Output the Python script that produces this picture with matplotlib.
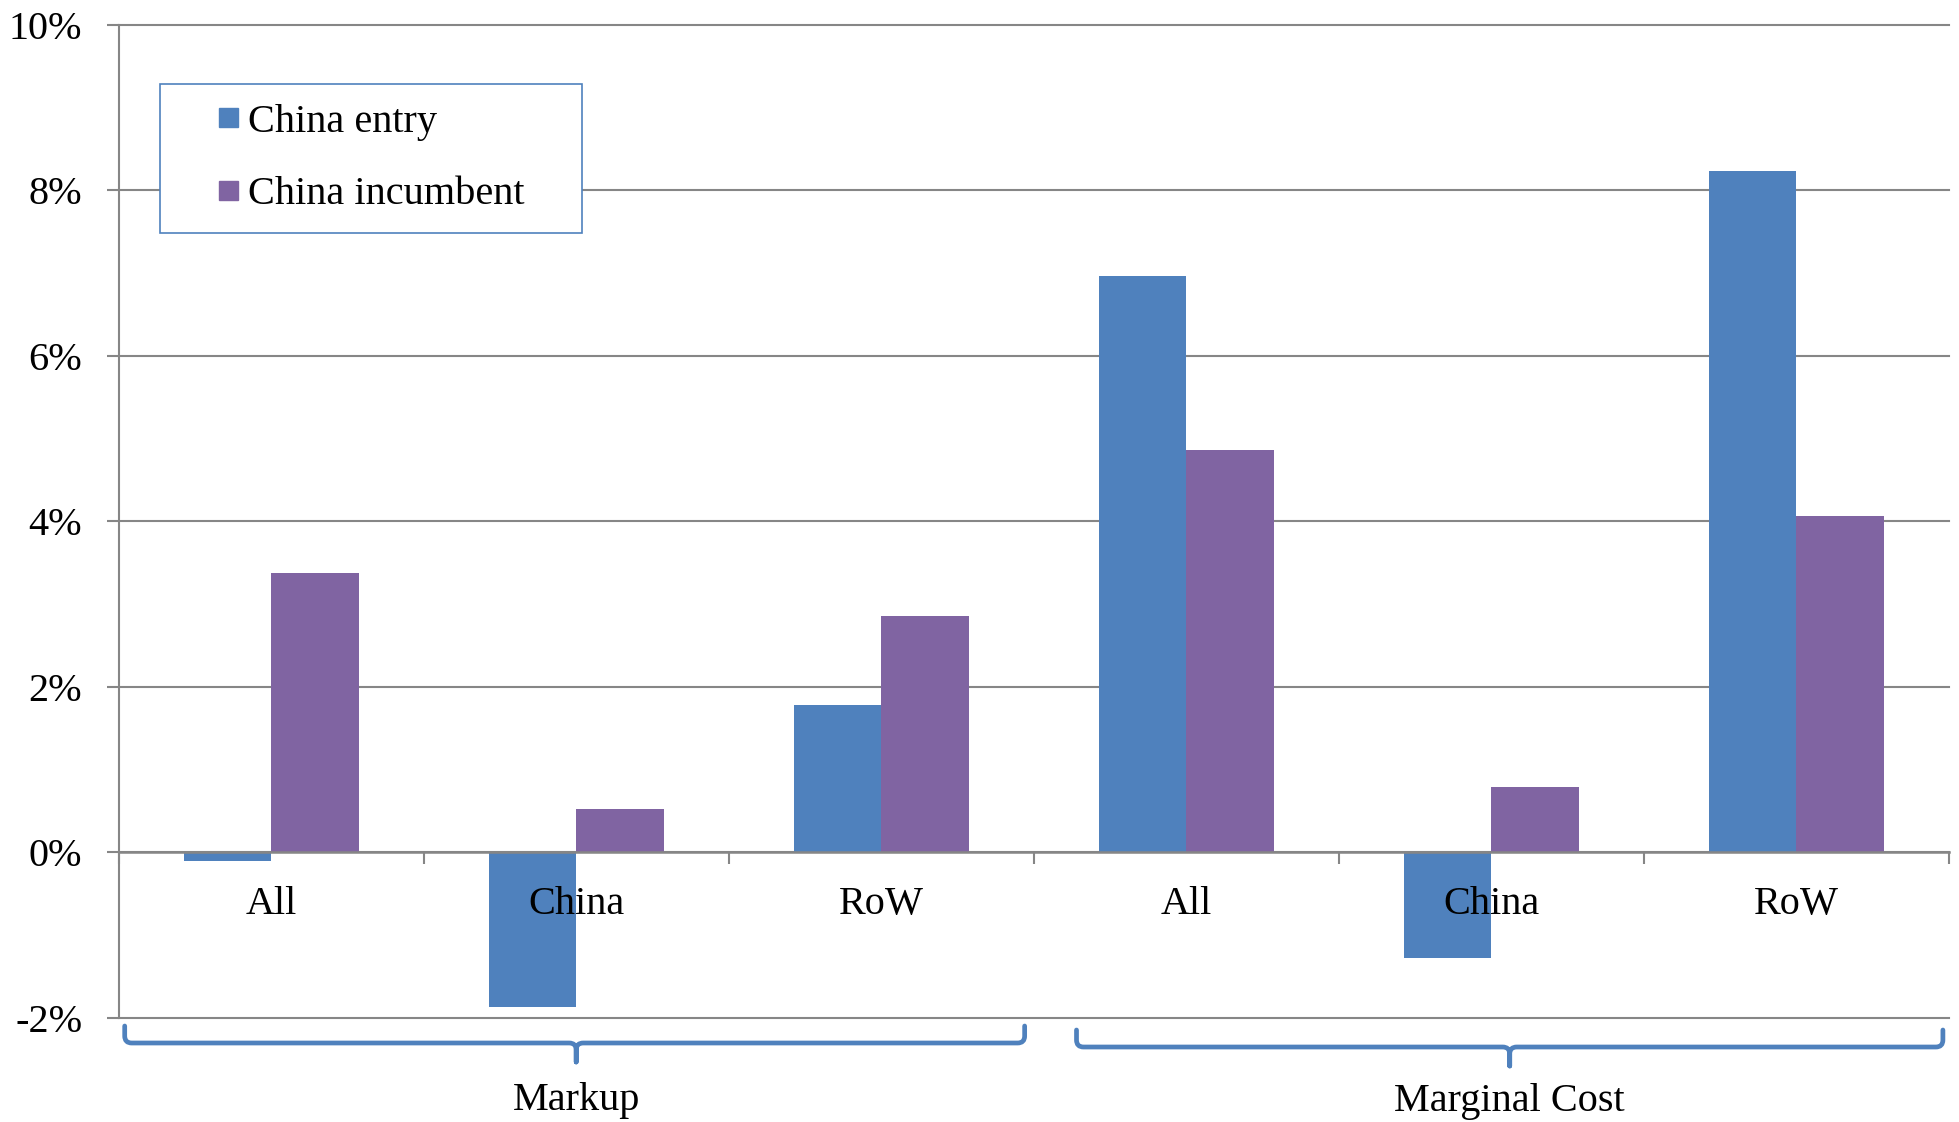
import numpy as np
import matplotlib
matplotlib.use("Agg")
import matplotlib.pyplot as plt
import matplotlib.transforms as mtransforms
from matplotlib.path import Path
from matplotlib.patches import PathPatch, Patch, Rectangle
from matplotlib.legend_handler import HandlerPatch

# price decomposition: change by firm origin
categories = ["All", "China", "RoW", "All", "China", "RoW"]
groups = ["Markup", "Marginal Cost"]
china_entry = [-0.10, -1.87, 1.78, 6.96, -1.27, 8.23]
china_incumbent = [3.38, 0.53, 2.85, 4.86, 0.79, 4.06]
yticks = [-2, 0, 2, 4, 6, 8, 10]

BLUE = "#4F81BD"
PURPLE = "#8064A2"
GRID = "#868686"
FS = 29

plt.rcParams["font.family"] = ["Liberation Serif", "DejaVu Serif"]

W, H = 1959, 1122
fig = plt.figure(figsize=(W / 100, H / 100), dpi=100)
ax = fig.add_axes([118.6 / W, 1 - 1018 / H, (1949 - 118.6) / W, (1018 - 24.5) / H])
ax.set_axisbelow(False)

# horizontal gridlines sit under the bars, tick labels stay on top
for v in yticks:
    ax.axhline(v, color=GRID, lw=1.5, zorder=0.5, clip_on=False)

x = np.arange(len(categories))
w = 0.287
ax.bar(x - w / 2, china_entry, w, color=BLUE, label="China entry", zorder=2)
ax.bar(x + w / 2, china_incumbent, w, color=PURPLE, label="China incumbent", zorder=2)

ax.set_xlim(-0.5, len(categories) - 0.5)
ax.set_ylim(yticks[0], yticks[-1])
ax.set_yticks(yticks)
ax.set_yticklabels([f"{v}%" for v in yticks])
ax.tick_params(axis="y", length=8.6, width=1.5, color=GRID, pad=17.5, labelsize=FS)

ax.set_xticks(x)
ax.set_xticklabels(categories)
ax.set_xticks(np.arange(len(categories) + 1) - 0.5, minor=True)
ax.tick_params(axis="x", which="major", length=0, pad=24, labelsize=FS)
ax.tick_params(axis="x", which="minor", length=8.6, width=1.5, color=GRID)

for side in ("top", "right"):
    ax.spines[side].set_visible(False)
ax.spines["left"].set_color(GRID)
ax.spines["left"].set_linewidth(1.5)
ax.spines["bottom"].set_position(("data", 0))
ax.spines["bottom"].set_color(GRID)
ax.spines["bottom"].set_linewidth(1.8)
ax.spines["bottom"].set_zorder(3)


def square_handle(legend, orig_handle, xdescent, ydescent, width, height, fontsize):
    s = 0.47 * fontsize
    return Rectangle((width - s - xdescent, -ydescent + (height - s) / 2), s, s)


handles = [Patch(color=BLUE), Patch(color=PURPLE)]
leg = ax.legend(handles, ["China entry", "China incumbent"],
                loc="upper left", mode="expand",
                bbox_to_anchor=(160 / W, 1 - 232 / H, (582 - 160) / W, (232 - 84) / H),
                bbox_transform=fig.transFigure, borderaxespad=0,
                fontsize=FS, frameon=True, fancybox=False, framealpha=1,
                edgecolor=BLUE, borderpad=0.49, labelspacing=0.87,
                handlelength=1.45, handleheight=0.7, handletextpad=0.25,
                handler_map={Patch: HandlerPatch(patch_func=square_handle)})
leg.get_frame().set_linewidth(1.2)
leg.set_zorder(5)

# curly brackets under each group of categories
trans = mtransforms.blended_transform_factory(ax.transData, fig.transFigure)
brace_x = [(-0.48, 1.0, 2.47), (2.64, 4.06, 5.48)]
brace_y = [(1026, 1043, 1062), (1030, 1047, 1066)]
label_y = [1110, 1111]
rx = 7 / 305.0
ry = 7 / H
for (x0, xm, x1), (yt, yh, yb), ly, name in zip(brace_x, brace_y, label_y, groups):
    yt, yh, yb = 1 - yt / H, 1 - yh / H, 1 - yb / H
    verts = [(x0, yt), (x0, yh + ry), (x0, yh), (x0 + rx, yh),
             (xm - rx, yh), (xm, yh), (xm, yh - ry), (xm, yb),
             (xm, yh - ry), (xm, yh), (xm + rx, yh),
             (x1 - rx, yh), (x1, yh), (x1, yh + ry), (x1, yt)]
    codes = [Path.MOVETO, Path.LINETO, Path.CURVE3, Path.CURVE3,
             Path.LINETO, Path.CURVE3, Path.CURVE3, Path.LINETO,
             Path.LINETO, Path.CURVE3, Path.CURVE3,
             Path.LINETO, Path.CURVE3, Path.CURVE3, Path.LINETO]
    ax.add_patch(PathPatch(Path(verts, codes), transform=trans, fill=False,
                           edgecolor=BLUE, lw=3.4, capstyle="round",
                           joinstyle="round", clip_on=False))
    ax.text(xm, 1 - ly / H, name, transform=trans, ha="center", va="baseline",
            fontsize=FS)

fig.savefig("out.png", dpi=100)
